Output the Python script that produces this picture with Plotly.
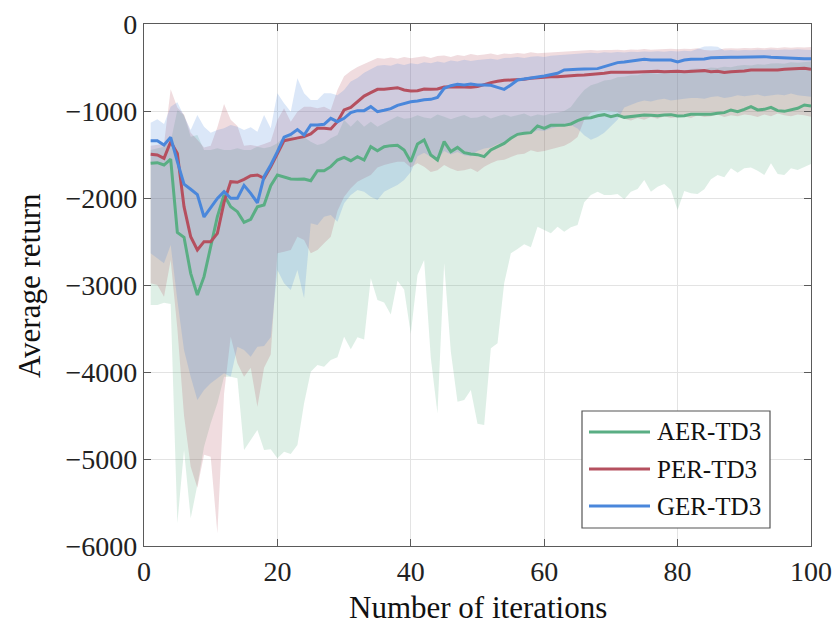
import plotly.graph_objects as go

# Training curves: mean return and spread band per method, iterations 1..100
iterations = list(range(1, 101))

aer_mean = [-1600, -1594, -1621, -1552, -2395, -2452, -2866, -3115, -2904, -2559,
            -2214, -1965, -2100, -2157, -2280, -2245, -2100, -2080, -1858, -1736,
            -1762, -1782, -1785, -1782, -1801, -1686, -1686, -1640, -1563, -1533,
            -1571, -1525, -1563, -1410, -1456, -1410, -1398, -1394, -1448, -1582,
            -1379, -1333, -1506, -1563, -1352, -1467, -1418, -1479, -1494, -1502,
            -1525, -1448, -1410, -1372, -1314, -1268, -1257, -1249, -1172, -1199,
            -1165, -1165, -1165, -1149, -1111, -1084, -1077, -1054, -1042, -1065,
            -1046, -1073, -1065, -1057, -1046, -1050, -1054, -1046, -1042, -1057,
            -1054, -1038, -1038, -1038, -1038, -1027, -1019, -988, -1008, -981,
            -950, -988, -981, -958, -996, -1004, -988, -969, -931, -943]

per_mean = [-1498, -1506, -1544, -1353, -1487, -2100, -2445, -2598, -2502, -2502,
            -2406, -2050, -1812, -1820, -1785, -1744, -1736, -1774, -1640, -1487,
            -1341, -1326, -1310, -1295, -1264, -1199, -1199, -1207, -1123, -988,
            -958, -893, -828, -789, -751, -751, -739, -732, -759, -770,
            -766, -747, -751, -747, -724, -720, -720, -724, -728, -720,
            -693, -674, -659, -647, -644, -644, -636, -624, -617, -605,
            -605, -605, -598, -598, -590, -586, -582, -579, -567, -556,
            -552, -556, -556, -552, -552, -552, -544, -548, -544, -544,
            -548, -548, -540, -536, -548, -544, -556, -548, -548, -540,
            -529, -529, -529, -536, -529, -521, -517, -517, -510, -521]

ger_mean = [-1341, -1341, -1391, -1303, -1582, -1840, -1900, -1960, -2218, -2117,
            -2004, -1927, -2004, -2004, -1855, -1946, -2055, -1755, -1621, -1468,
            -1300, -1270, -1214, -1276, -1161, -1161, -1153, -1084, -1123, -1084,
            -1019, -996, -996, -950, -1008, -992, -973, -935, -912, -893,
            -885, -870, -866, -843, -739, -709, -693, -701, -690, -701,
            -701, -705, -728, -751, -701, -644, -632, -624, -609, -598,
            -586, -567, -529, -529, -521, -517, -517, -513, -490, -471,
            -444, -437, -425, -418, -406, -414, -414, -421, -414, -437,
            -414, -406, -402, -402, -387, -383, -383, -383, -383, -379,
            -375, -375, -375, -383, -387, -391, -391, -391, -398, -398]

aer_upper = [-1448, -1430, -1410, -1353, -990, -1046, -1295, -1277, -1448, -1448,
             -1429, -1448, -1448, -1429, -1448, -1448, -1410, -1429, -1410, -1372,
             -1295, -1277, -1333, -1303, -1353, -1391, -1372, -1314, -1277, -1103,
             -1180, -1103, -1180, -1123, -1180, -1140, -1100, -1060, -1090, -1080,
             -1050, -1075, -1085, -1040, -1065, -1095, -1070, -1045, -1080, -1075,
             -1050, -1085, -1060, -1040, -1065, -1050, -1030, -1062, -1040, -1052,
             -1028, -1020, -1000, -955, -850, -760, -705, -682, -650, -640,
             -612, -605, -588, -590, -570, -562, -575, -548, -545, -530,
             -538, -518, -512, -520, -500, -505, -490, -498, -480, -472,
             -478, -462, -468, -455, -450, -458, -440, -445, -436, -430]

aer_lower = [-3230, -3230, -3203, -3218, -5739, -4897, -5682, -5300, -4858, -4590,
             -4360, -4054, -4054, -4073, -4897, -4782, -4667, -4897, -4889, -4992,
             -4916, -4943, -4839, -4360, -3996, -3920, -3939, -3862, -3831, -3594,
             -3739, -3602, -3625, -2923, -3172, -3200, -3340, -2950, -3052, -3560,
             -2885, -2713, -3840, -4475, -2751, -3765, -4341, -4322, -4207, -4594,
             -4609, -3728, -3670, -2981, -2636, -2585, -2531, -2567, -2330, -2368,
             -2406, -2330, -2387, -2335, -2310, -2050, -1966, -1927, -1966, -1966,
             -1954, -2015, -1927, -1897, -1793, -1927, -1870, -1839, -1908, -2138,
             -1920, -1946, -1954, -1900, -1785, -1736, -1762, -1659, -1709, -1659,
             -1648, -1686, -1736, -1601, -1724, -1736, -1659, -1678, -1640, -1609]

per_upper = [-1400, -1390, -1380, -751, -960, -1040, -1250, -1330, -1420, -1400,
             -1188, -920, -1100, -1172, -1400, -1390, -1405, -1380, -1350, -1103,
             -969, -1123, -1008, -950, -950, -969, -950, -988, -760, -600,
             -540, -495, -460, -420, -390, -400, -385, -398, -380, -395,
             -383, -372, -390, -368, -362, -378, -356, -368, -345, -360,
             -350, -340, -355, -338, -345, -332, -342, -326, -335, -330,
             -325, -320, -318, -310, -312, -305, -300, -305, -298, -300,
             -295, -302, -292, -296, -288, -295, -290, -292, -285, -290,
             -284, -288, -280, -300, -305, -300, -282, -278, -283, -275,
             -280, -272, -278, -270, -275, -268, -272, -266, -270, -265]

per_lower = [-2981, -3000, -3134, -2713, -3500, -4500, -5088, -5330, -4950, -4973,
             -5854, -4250, -3594, -3900, -4054, -3950, -4398, -3950, -3800, -2636,
             -2617, -2598, -2445, -2483, -2636, -2598, -2521, -2445, -2150, -1985,
             -1889, -1812, -1774, -1736, -1650, -1620, -1600, -1582, -1582, -1650,
             -1600, -1640, -1700, -1680, -1620, -1660, -1690, -1680, -1660, -1700,
             -1640, -1600, -1570, -1560, -1530, -1500, -1490, -1450, -1470, -1460,
             -1440, -1420, -1400, -1360, -1300, -1100, -1020, -1000, -990, -1000,
             -1010, -1090, -1110, -1080, -1100, -1070, -1090, -1060, -1080, -1070,
             -1060, -1080, -1050, -1070, -1060, -1040, -1070, -1050, -1060, -1040,
             -1050, -1070, -1040, -1060, -1030, -1050, -1060, -1040, -1050, -1065]

ger_upper = [-1134, -1096, -1149, -950, -900, -1065, -1218, -1046, -1180, -1249,
             -1218, -1199, -1161, -1180, -1218, -1188, -1238, -1046, -1199, -797,
             -912, -1008, -625, -797, -874, -874, -797, -797, -820, -760,
             -660, -620, -560, -520, -480, -470, -480, -455, -470, -450,
             -462, -440, -452, -430, -445, -420, -432, -410, -425, -415,
             -405, -398, -410, -392, -388, -380, -392, -375, -372, -380,
             -365, -360, -352, -345, -340, -332, -330, -335, -325, -330,
             -322, -328, -318, -322, -315, -320, -314, -318, -310, -315,
             -308, -312, -290, -260, -255, -262, -305, -300, -305, -298,
             -302, -296, -300, -294, -298, -292, -296, -290, -295, -300]

ger_lower = [-2636, -2693, -2751, -2540, -3172, -3747, -4054, -4322, -4207, -4130,
             -4073, -4015, -4054, -3709, -3747, -3824, -3709, -3700, -3600, -2828,
             -2981, -3057, -2828, -3153, -2291, -2310, -2215, -2196, -2272, -2061,
             -1966, -1908, -1927, -1985, -2023, -1927, -1889, -1851, -1793, -1700,
             -1520, -1480, -1530, -1560, -1460, -1500, -1470, -1510, -1520, -1460,
             -1430, -1420, -1380, -1360, -1310, -1280, -1270, -1260, -1220, -1230,
             -1200, -1180, -1150, -1160, -1200, -1280, -1330, -1300, -1250, -1180,
             -1100, -960, -930, -900, -880, -890, -870, -860, -880, -870,
             -860, -850, -850, -860, -840, -830, -850, -840, -820, -830,
             -820, -810, -830, -820, -810, -820, -800, -820, -830, -835]

series = [
    ("AER-TD3", aer_mean, aer_upper, aer_lower, (90, 174, 132)),
    ("PER-TD3", per_mean, per_upper, per_lower, (181, 80, 95)),
    ("GER-TD3", ger_mean, ger_upper, ger_lower, (74, 135, 219)),
]

x_ticks = [0, 20, 40, 60, 80, 100]
y_ticks = [0, -1000, -2000, -3000, -4000, -5000, -6000]

FONT = "Liberation Serif, Times New Roman, serif"

fig = go.Figure()

# shaded spread bands (closed polygons: upper edge forward, lower edge back)
for name, mean, upper, lower, rgb in series:
    fig.add_trace(go.Scatter(
        x=iterations + iterations[::-1],
        y=upper + lower[::-1],
        fill="toself",
        fillcolor="rgba(%d,%d,%d,0.2)" % rgb,
        line=dict(width=0),
        mode="lines",
        hoverinfo="skip",
        showlegend=False,
    ))

# mean curves
for name, mean, upper, lower, rgb in series:
    fig.add_trace(go.Scatter(
        x=iterations, y=mean, mode="lines", name=name,
        line=dict(color="rgb(%d,%d,%d)" % rgb, width=3),
        showlegend=False,
    ))

axis_common = dict(
    showgrid=True, gridcolor="#e3e3e3", gridwidth=1,
    showline=True, linecolor="#5a5a5a", linewidth=1.2, mirror="ticks",
    ticks="inside", ticklen=7, tickcolor="#5a5a5a", tickwidth=1.2,
    tickfont=dict(family=FONT, size=28, color="#222222"),
    zeroline=False, automargin=False,
)

fig.update_xaxes(range=[0, 100], tickvals=x_ticks, **axis_common)
fig.update_yaxes(range=[-6000, 0], tickvals=y_ticks, **axis_common)

PLOT_L, PLOT_R, PLOT_T, PLOT_B = 144, 811, 24, 546
W, H = 835, 624
pw, ph = PLOT_R - PLOT_L, PLOT_B - PLOT_T


def px(xp):
    return (xp - PLOT_L) / pw


def py(yp):
    return (PLOT_B - yp) / ph


annotations = [
    dict(text="Number of iterations", x=0.5, y=py(607), xref="paper", yref="paper",
         xanchor="center", yanchor="middle", showarrow=False,
         font=dict(family=FONT, size=31, color="#111111")),
    dict(text="Average return", x=px(29), y=0.5, xref="paper", yref="paper",
         xanchor="center", yanchor="middle", showarrow=False, textangle=-90,
         font=dict(family=FONT, size=31, color="#111111")),
]

# legend box drawn with shapes and text
shapes = [dict(type="rect", xref="paper", yref="paper",
               x0=px(582), x1=px(770), y0=py(528), y1=py(411),
               line=dict(color="#555555", width=1.2), fillcolor="white", layer="above")]
rows = [432, 469, 506]
for (name, mean, upper, lower, rgb), ry in zip(series, rows):
    shapes.append(dict(type="line", xref="paper", yref="paper",
                       x0=px(589), x1=px(650), y0=py(ry), y1=py(ry),
                       line=dict(color="rgb(%d,%d,%d)" % rgb, width=3), layer="above"))
    annotations.append(dict(text=name, x=px(655), y=py(ry), xref="paper", yref="paper",
                            xanchor="left", yanchor="middle", showarrow=False,
                            font=dict(family=FONT, size=25, color="#111111")))

fig.update_layout(
    width=W, height=H,
    margin=dict(l=PLOT_L, r=W - PLOT_R, t=PLOT_T, b=H - PLOT_B),
    paper_bgcolor="white", plot_bgcolor="white",
    showlegend=False,
    annotations=annotations, shapes=shapes,
    font=dict(family=FONT),
)

fig.write_html("out.html")
